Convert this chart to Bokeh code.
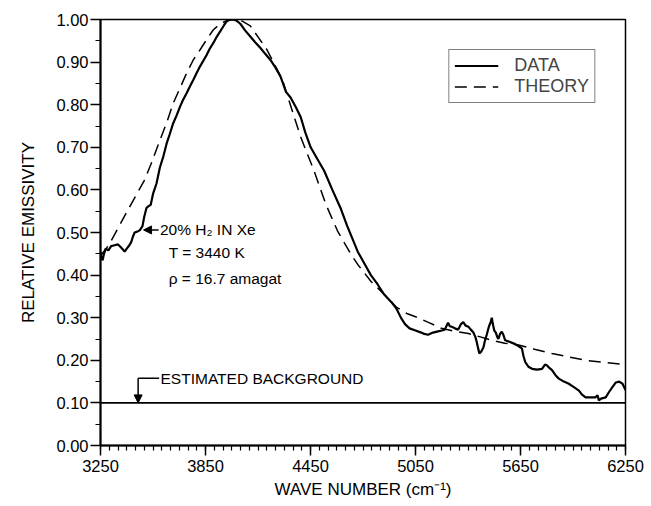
from bokeh.plotting import figure
from bokeh.models import (FixedTicker, Range1d, Legend, LegendItem, Arrow,
                          NormalHead, Span, Label)
from bokeh.embed import file_html
from bokeh.resources import INLINE

FONT = "Liberation Sans"

# ---- data ----
data_x = [3250, 3255, 3262, 3270, 3280, 3295, 3311, 3330, 3350, 3365, 3378, 3388,
          3400, 3415, 3426, 3435, 3445, 3460, 3474, 3490, 3499, 3513, 3525, 3537,
          3551, 3570, 3589, 3610, 3628, 3645, 3665, 3685, 3704, 3720, 3742, 3760,
          3780, 3800, 3819, 3840, 3857, 3875, 3895, 3915, 3934, 3955, 3972, 3990,
          4005, 4025, 4049, 4075, 4106, 4135, 4164, 4190, 4221, 4250, 4279, 4310,
          4336, 4365, 4394, 4420, 4451, 4490, 4528, 4575, 4624, 4660, 4690, 4720,
          4757, 4795, 4834, 4870, 4911, 4940, 4968, 4990, 5016, 5050, 5083, 5100,
          5122, 5150, 5179, 5200, 5217, 5236, 5246, 5256, 5275, 5294, 5310, 5323,
          5335, 5352, 5366, 5380, 5392, 5400, 5408, 5415, 5425, 5438, 5448, 5457,
          5470, 5480, 5486, 5492, 5500, 5509, 5517, 5524, 5533, 5543, 5552, 5562,
          5590, 5620, 5640, 5658, 5667, 5677, 5695, 5716, 5745, 5773, 5790, 5802,
          5815, 5830, 5850, 5869, 5898, 5926, 5955, 5984, 6000, 6022, 6050, 6079,
          6090, 6098, 6110, 6137, 6155, 6175, 6195, 6214, 6233, 6250]
data_y = [0.455, 0.440, 0.435, 0.450, 0.462, 0.458, 0.468, 0.470, 0.472, 0.466, 0.460, 0.455,
          0.462, 0.470, 0.478, 0.490, 0.500, 0.502, 0.505, 0.515, 0.535, 0.558, 0.562, 0.565,
          0.592, 0.615, 0.652, 0.680, 0.709, 0.730, 0.756, 0.775, 0.795, 0.810, 0.827, 0.842,
          0.858, 0.875, 0.890, 0.905, 0.917, 0.932, 0.945, 0.960, 0.972, 0.986, 0.996, 1.000,
          1.000, 0.998, 0.990, 0.975, 0.960, 0.946, 0.933, 0.920, 0.905, 0.887, 0.866, 0.830,
          0.817, 0.795, 0.771, 0.735, 0.700, 0.672, 0.645, 0.600, 0.555, 0.515, 0.485, 0.455,
          0.428, 0.400, 0.378, 0.355, 0.337, 0.322, 0.299, 0.285, 0.275, 0.270, 0.265, 0.262,
          0.260, 0.265, 0.268, 0.270, 0.272, 0.288, 0.280, 0.279, 0.275, 0.272, 0.285, 0.290,
          0.282, 0.279, 0.272, 0.266, 0.255, 0.243, 0.228, 0.216, 0.220, 0.230, 0.248, 0.260,
          0.280, 0.290, 0.300, 0.285, 0.270, 0.265, 0.255, 0.250, 0.262, 0.267, 0.260, 0.247,
          0.243, 0.238, 0.233, 0.228, 0.210, 0.196, 0.185, 0.180, 0.178, 0.180, 0.190, 0.188,
          0.182, 0.177, 0.165, 0.157, 0.150, 0.145, 0.137, 0.129, 0.120, 0.113, 0.113, 0.113,
          0.118, 0.106, 0.110, 0.113, 0.125, 0.137, 0.148, 0.150, 0.145, 0.130]

theory_x = [3250, 3300, 3350, 3400, 3450, 3500, 3540, 3589, 3630, 3665, 3700, 3742,
            3780, 3819, 3860, 3895, 3935, 3975, 4020, 4060, 4106, 4200, 4290, 4326,
            4394, 4470, 4537, 4604, 4681, 4720, 4796, 4834, 4892, 4940, 5000, 5064,
            5130, 5198, 5275, 5352, 5420, 5486, 5560, 5639, 5730, 5830, 5925, 6022,
            6130, 6250]
theory_y = [0.445, 0.472, 0.510, 0.548, 0.585, 0.622, 0.662, 0.716, 0.760, 0.803, 0.835, 0.874,
            0.905, 0.929, 0.955, 0.976, 0.990, 0.998, 1.000, 0.996, 0.985, 0.930, 0.858, 0.811,
            0.724, 0.645, 0.567, 0.504, 0.449, 0.425, 0.385, 0.370, 0.346, 0.325, 0.310, 0.300,
            0.288, 0.275, 0.268, 0.263, 0.255, 0.247, 0.240, 0.236, 0.226, 0.216, 0.208, 0.200,
            0.195, 0.190]

x_major = [3250, 3850, 4450, 5050, 5650, 6250]
x_tick_labels = ["3250", "3850", "4450", "5050", "5650", "6250"]
x_minor = list(range(3250, 6251, 50))
y_major = [0.0, 0.1, 0.2, 0.3, 0.4, 0.5, 0.6, 0.7, 0.8, 0.9, 1.0]
y_tick_labels = ["0.00", "0.10", "0.20", "0.30", "0.40", "0.50",
                 "0.60", "0.70", "0.80", "0.90", "1.00"]
y_minor = [i * 0.05 for i in range(21)]

background_level = 0.10
legend_labels = ["DATA", "THEORY"]
x_title = "WAVE NUMBER (cm\u207b\u00b9)"
y_title = "RELATIVE EMISSIVITY"

# annotation anchors (data units)
mix_text = ("20% H\u2082 IN Xe", 3590, 0.506)
mix_arrow_tip = (3496, 0.506)
temp_text = ("T = 3440 K", 3640, 0.452)
dens_text = ("\u03c1 = 16.7 amagat", 3640, 0.393)
bg_text = ("ESTIMATED BACKGROUND", 3593, 0.158)
bg_arrow_x = 3465

# ---- figure ----
p = figure(width=651, height=506, output_backend="svg", toolbar_location=None,
           x_range=Range1d(3250, 6250), y_range=Range1d(0, 1.0),
           min_border_left=100, min_border_right=26, min_border_top=19,
           min_border_bottom=61)
p.grid.visible = False
p.background_fill_color = "white"
p.border_fill_color = "white"
p.outline_line_color = "black"
p.outline_line_width = 1.5

r_data = p.line(data_x, data_y, line_color="black", line_width=2.2)
r_theory = p.line(theory_x, theory_y, line_color="black", line_width=1.5,
                  line_dash="12 7")

p.add_layout(Span(location=background_level, dimension="width",
                  line_color="black", line_width=1.8))

# axes
p.xaxis.ticker = FixedTicker(ticks=x_major, minor_ticks=x_minor)
p.xaxis.major_label_overrides = {t: l for t, l in zip(x_major, x_tick_labels)}
p.yaxis.ticker = FixedTicker(ticks=y_major, minor_ticks=y_minor)
p.yaxis.major_label_overrides = {t: l for t, l in zip(y_major, y_tick_labels)}
for ax in (p.xaxis[0], p.yaxis[0]):
    ax.axis_line_color = "black"
    ax.axis_line_width = 2
    ax.major_tick_line_color = "black"
    ax.major_tick_line_width = 1.5
    ax.minor_tick_line_color = "black"
    ax.minor_tick_line_width = 1.2
    ax.major_tick_in = 0
    ax.major_tick_out = 10
    ax.minor_tick_in = 0
    ax.minor_tick_out = 5
    ax.major_label_text_font = FONT
    ax.major_label_text_font_size = "16.5px"
    ax.major_label_text_color = "black"
    ax.axis_label_text_font = FONT
    ax.axis_label_text_font_style = "normal"
    ax.axis_label_text_color = "black"
p.xaxis.axis_label = x_title
p.xaxis.axis_label_text_font_size = "17px"
p.xaxis.major_label_standoff = 4
p.xaxis.axis_label_standoff = 5
p.yaxis.axis_label = y_title
p.yaxis.axis_label_text_font_size = "17px"
p.yaxis.major_label_standoff = 2
p.yaxis.axis_label_standoff = 15

# legend
legend = Legend(items=[LegendItem(label=legend_labels[0], renderers=[r_data]),
                       LegendItem(label=legend_labels[1], renderers=[r_theory])],
                location="top_right", margin=30, padding=5, spacing=0,
                glyph_width=44, glyph_height=19, label_height=19,
                label_standoff=16,
                label_text_font=FONT, label_text_font_size="18px",
                border_line_color="black", border_line_width=1.5,
                background_fill_alpha=1.0)
p.add_layout(legend)

# annotations
def add_text(spec):
    txt, x, y = spec
    p.add_layout(Label(x=x, y=y, text=txt, text_font=FONT,
                       text_font_size="15.5px", text_baseline="middle",
                       text_align="left", text_color="black"))

add_text(mix_text)
add_text(temp_text)
add_text(dens_text)
add_text(bg_text)

p.add_layout(Arrow(end=NormalHead(size=8, fill_color="black", line_color="black"),
                   x_start=mix_text[1] - 8, y_start=mix_text[2],
                   x_end=mix_arrow_tip[0], y_end=mix_arrow_tip[1],
                   line_color="black", line_width=1.5))
p.add_layout(Arrow(end=None, x_start=bg_text[1] - 8, y_start=bg_text[2],
                   x_end=bg_arrow_x, y_end=bg_text[2],
                   line_color="black", line_width=1.5))
p.add_layout(Arrow(end=NormalHead(size=8, fill_color="black", line_color="black"),
                   x_start=bg_arrow_x, y_start=bg_text[2],
                   x_end=bg_arrow_x, y_end=background_level,
                   line_color="black", line_width=1.5))

open("out.html", "w").write(file_html(p, INLINE))
